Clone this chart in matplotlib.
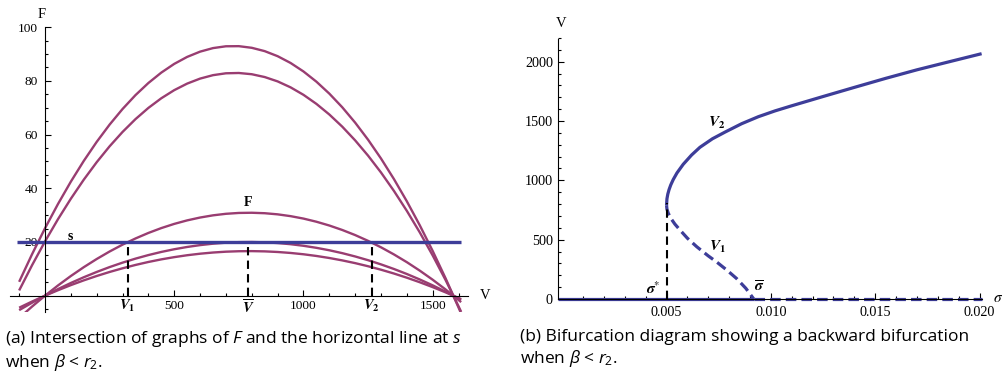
import matplotlib
matplotlib.use("Agg")
import matplotlib.pyplot as plt
from matplotlib.ticker import FixedLocator, MultipleLocator, FormatStrFormatter

# ---- data ----
# (a) F against V, five curves sampled every 50 along V
V_pts = [-100, -50, 0, 50, 100, 150, 200, 250, 300, 350, 400, 450, 500, 550, 600, 650, 700, 750,
         800, 850, 900, 950, 1000, 1050, 1100, 1150, 1200, 1250, 1300, 1350, 1400, 1450, 1500, 1550,
         1600, 1610]
F_top = [5.17, 15.45, 25.10, 34.10, 42.47, 50.19, 57.28, 63.72, 69.52, 74.69, 79.21, 83.09, 86.33,
         88.93, 90.89, 92.21, 92.89, 92.93, 92.32, 91.08, 89.20, 86.68, 83.51, 79.71, 75.26, 70.18,
         64.45, 58.08, 51.08, 43.43, 35.14, 26.21, 16.64, 6.43, -4.42, -6.66]
F_second = [1.95, 11.36, 20.20, 28.45, 36.11, 43.20, 49.71, 55.64, 60.98, 65.75, 69.93, 73.53, 76.55,
            78.99, 80.85, 82.13, 82.83, 82.94, 82.48, 81.43, 79.81, 77.60, 74.81, 71.44, 67.49, 62.96,
            57.84, 52.15, 45.88, 39.02, 31.58, 23.57, 14.97, 5.79, -3.97, -6.00]
F_main = [-8.32, -4.04, 0, 3.79, 7.33, 10.62, 13.66, 16.46, 19.01, 21.31, 23.37, 25.18, 26.74,
          28.05, 29.11, 29.93, 30.50, 30.82, 30.89, 30.72, 30.30, 29.63, 28.72, 27.55, 26.14, 24.48,
          22.58, 20.42, 18.02, 15.37, 12.48, 9.33, 5.94, 2.30, -1.58, -2.39]
F_tangent = [-5.38, -2.61, 0, 2.45, 4.74, 6.87, 8.84, 10.66, 12.31, 13.80, 15.13, 16.30, 17.30,
             18.15, 18.84, 19.37, 19.74, 19.95, 20.00, 19.88, 19.61, 19.18, 18.59, 17.83, 16.92, 15.85,
             14.61, 13.22, 11.66, 9.95, 8.08, 6.04, 3.85, 1.49, -1.03, -1.55]
F_low = [-4.47, -2.17, 0, 2.03, 3.94, 5.71, 7.34, 8.84, 10.21, 11.45, 12.56, 13.53, 14.36,
         15.07, 15.64, 16.08, 16.39, 16.56, 16.60, 16.51, 16.28, 15.92, 15.43, 14.80, 14.04, 13.15,
         12.13, 10.97, 9.68, 8.26, 6.70, 5.01, 3.19, 1.24, -0.85, -1.28]
s_level = 20
s_range = [-107, 1609]
V1, V_bar, V2 = 320, 785, 1264

# (b) bifurcation diagram
sig_upper = [0.00500, 0.00502, 0.00506, 0.00512, 0.00520, 0.00532, 0.00550, 0.00580, 0.00620, 0.00660,
             0.00720, 0.00780, 0.00860, 0.00940, 0.01020, 0.01100, 0.01250, 0.01400, 0.01550, 0.01700,
             0.01850, 0.02010]
V_upper = [790, 844, 883, 921, 960, 1006, 1062, 1135, 1213, 1278,
           1350, 1406, 1477, 1536, 1585, 1628, 1706, 1783, 1859, 1931,
           1997, 2067]
sig_lower = [0.00500, 0.00502, 0.00508, 0.00520, 0.00540, 0.00565, 0.00600, 0.00645, 0.00700, 0.00740,
             0.00790, 0.00836, 0.00880, 0.00918]
V_lower = [790, 757, 724, 681, 631, 580, 512, 440, 363, 312, 242, 172, 90, 0]
sigma_star, V_star = 0.00500, 810
sigma_bar = 0.00918
sigma_end = 0.0201

blue = (0.24, 0.24, 0.6)
purple = (0.6, 0.24, 0.442)

plt.rcParams["font.family"] = ["Liberation Serif", "DejaVu Serif"]
plt.rcParams["mathtext.fontset"] = "custom"
plt.rcParams["mathtext.rm"] = "Open Sans"
plt.rcParams["mathtext.it"] = "Open Sans:italic"
plt.rcParams["mathtext.bf"] = "Open Sans:bold"

W, H = 1004, 377
fig = plt.figure(figsize=(W / 100, H / 100), dpi=100)


def place(px_left, px_right, py_top, py_bottom):
    return [px_left / W, 1 - py_bottom / H, (px_right - px_left) / W, (py_bottom - py_top) / H]


def axis_style(ax):
    for side in ["top", "right"]:
        ax.spines[side].set_visible(False)
    ax.spines["left"].set_position(("data", 0))
    ax.spines["bottom"].set_position(("data", 0))
    for side in ["left", "bottom"]:
        ax.spines[side].set_linewidth(0.8)
    ax.tick_params(which="both", direction="in", width=0.8)
    ax.tick_params(which="major", length=4)
    ax.tick_params(which="minor", length=2.3)
    ax.patch.set_visible(False)


# ---------------- panel (a) ----------------
ax = fig.add_axes(place(8.8, 468.9, 24.5, 312.35))
ax.set_xlim(-140, 1640)
ax.set_ylim(-6.2, 101)
axis_style(ax)
ax.spines["left"].set_bounds(-6.2, 100)
ax.spines["bottom"].set_bounds(-135, 1636)

for F in [F_top, F_second, F_main, F_tangent, F_low]:
    ax.plot(V_pts, F, color=purple, lw=1.7, solid_capstyle="butt", solid_joinstyle="round")
ax.plot(s_range, [s_level, s_level], color=blue, lw=2.4, solid_capstyle="butt")
for v in [V1, V_bar, V2]:
    ax.plot([v, v], [0, s_level], color="black", lw=1.5, dashes=(4, 2.5))

ax.xaxis.set_major_locator(FixedLocator([500, 1000, 1500]))
ax.xaxis.set_minor_locator(MultipleLocator(100))
ax.yaxis.set_major_locator(FixedLocator([20, 40, 60, 80, 100]))
ax.yaxis.set_minor_locator(MultipleLocator(5))
ax.tick_params(axis="x", labelsize=9.6, pad=3.3)
ax.tick_params(axis="y", labelsize=9.6, pad=5)

lab = dict(math_fontfamily="stix", fontsize=10.5, ha="center", va="center")
ax.text(V1, -4.0, r"$\mathbfit{V}_{\mathbf{1}}$", **lab)
ax.text(V_bar, -4.3, r"$\overline{\mathbfit{V}}$", **lab)
ax.text(V2, -4.0, r"$\mathbfit{V}_{\mathbf{2}}$", **lab)
ax.text(785, 34.6, "F", fontsize=10, fontweight="bold", ha="center", va="center")
ax.text(97, 22.2, "s", fontsize=10, fontweight="bold", ha="center", va="center")
ax.text(-12, 104.9, "F", fontsize=10.5, ha="center", va="center")
ax.text(1702, 0, "V", fontsize=10.5, ha="center", va="center")

# ---------------- panel (b) ----------------
bx = fig.add_axes(place(558.24, 983.7, 37.9, 306.1))
bx.set_xlim(-0.00019, 0.0202)
bx.set_ylim(-60, 2200)
axis_style(bx)
bx.spines["left"].set_position(("data", -0.00019))
bx.spines["left"].set_bounds(0, 2190)
bx.spines["bottom"].set_bounds(-0.00019, 0.0201)

line_kw = dict(color=blue, lw=2.3, solid_capstyle="butt", solid_joinstyle="round")
bx.plot([-0.00019, sigma_bar], [0, 0], **line_kw)
bx.plot([sigma_bar, sigma_end], [0, 0], color=blue, lw=2.3, dashes=(3.3, 1.6))
bx.plot(sig_upper, V_upper, **line_kw)
bx.plot(sig_lower, V_lower, color=blue, lw=2.3, dashes=(3.3, 1.6))
bx.plot([sigma_star, sigma_star], [0, V_star], color="black", lw=1.5, dashes=(4, 2.5))

bx.xaxis.set_major_locator(FixedLocator([0.005, 0.010, 0.015, 0.020]))
bx.xaxis.set_minor_locator(FixedLocator([0.001 * i for i in range(1, 21)]))
bx.xaxis.set_major_formatter(FormatStrFormatter("%.3f"))
bx.yaxis.set_major_locator(FixedLocator([0, 500, 1000, 1500, 2000]))
bx.yaxis.set_minor_locator(MultipleLocator(100))
bx.tick_params(axis="x", labelsize=10.2, pad=5)
bx.tick_params(axis="y", labelsize=10.2, pad=3.8)

lab_b = dict(math_fontfamily="stix", fontsize=11, ha="center", va="center")
bx.text(0.00437, 90, r"$\mathbfit{\sigma}^{*}$", **lab_b)
bx.text(0.00945, 100, r"$\overline{\mathbfit{\sigma}}$", **lab_b)
bx.text(0.00745, 440, r"$\mathbfit{V}_{\mathbf{1}}$", **lab_b)
bx.text(0.00740, 1480, r"$\mathbfit{V}_{\mathbf{2}}$", **lab_b)
bx.text(-0.00006, 2325, "V", fontsize=10.5, ha="center", va="center")
bx.text(0.02088, 8, r"$\sigma$", fontsize=11, math_fontfamily="stix", ha="center", va="center")

# ---------------- captions ----------------
cap = dict(family="Open Sans", fontsize=12.5, math_fontfamily="custom", va="top", ha="left", linespacing=1.17)
fig.text(5 / W, 1 - 329 / H, "(a) Intersection of graphs of $F$ and the horizontal line at $s$\nwhen $\\beta$ < $r_2$.", **cap)
fig.text(520.5 / W, 1 - 329 / H, "(b) Bifurcation diagram showing a backward bifurcation\nwhen $\\beta$ < $r_2$.", **cap)

fig.savefig("out.png", dpi=100)
